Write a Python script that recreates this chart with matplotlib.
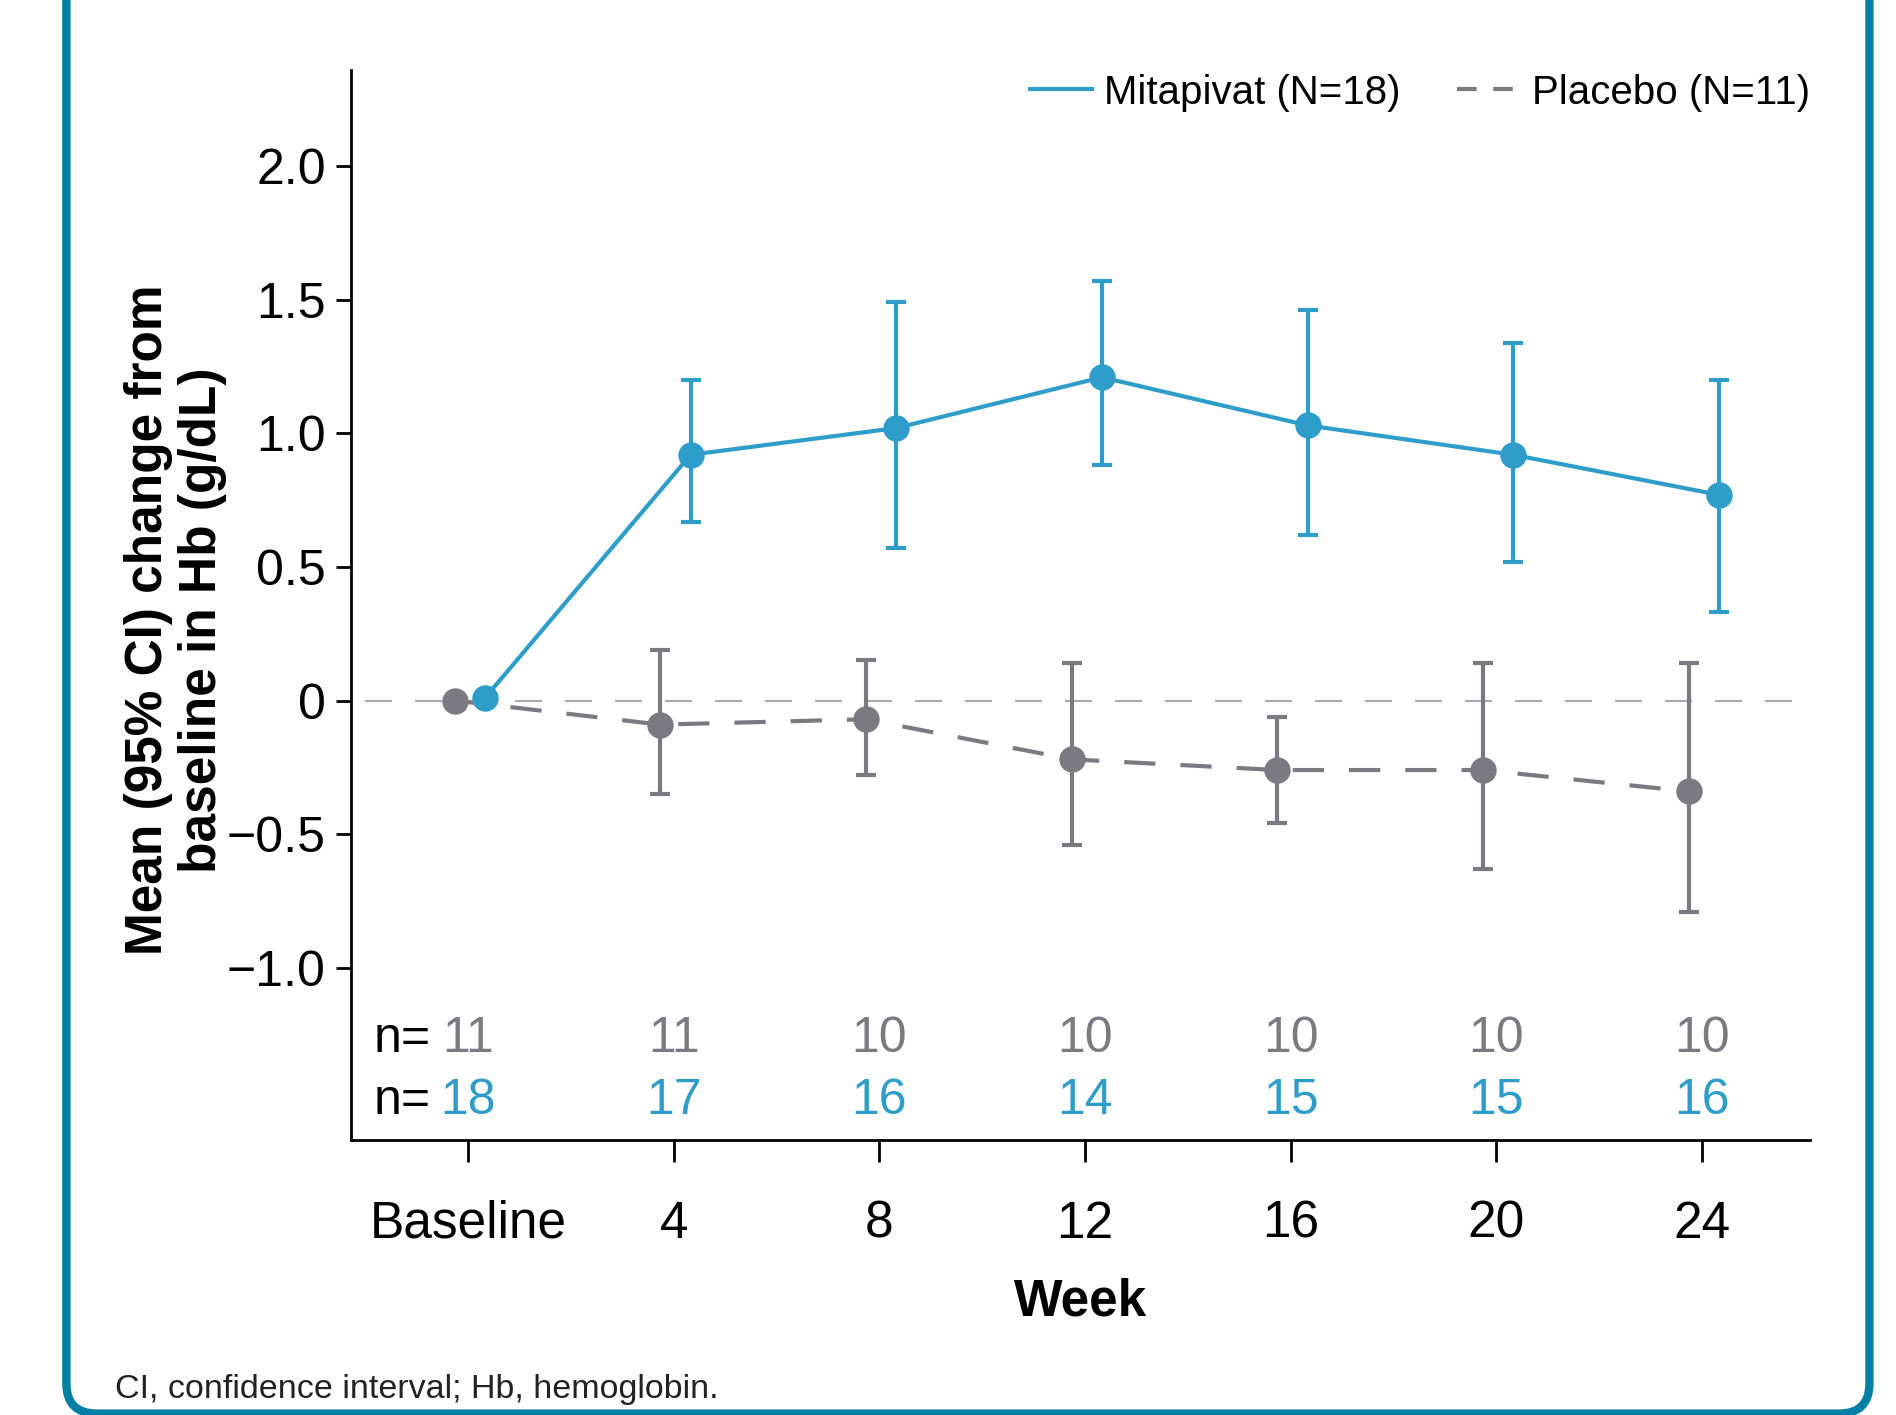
import matplotlib
matplotlib.use("Agg")
import matplotlib.pyplot as plt
from matplotlib.lines import Line2D
from matplotlib.patches import FancyBboxPatch

plt.rcParams["font.family"] = ["Liberation Sans", "DejaVu Sans"]

BLUE = "#2f9dca"
GRAY = "#7a7a80"
TEAL = "#0080a4"

weeks = [0, 4, 8, 12, 16, 20, 24]
week_labels = ["Baseline", "4", "8", "12", "16", "20", "24"]

mita_mean = [0.01, 0.92, 1.02, 1.21, 1.03, 0.92, 0.77]
mita_lo = [0.01, 0.67, 0.57, 0.88, 0.62, 0.52, 0.33]
mita_hi = [0.01, 1.20, 1.49, 1.57, 1.46, 1.34, 1.20]
mita_n = [18, 17, 16, 14, 15, 15, 16]

plac_mean = [0.0, -0.09, -0.07, -0.22, -0.26, -0.26, -0.34]
plac_lo = [0.0, -0.35, -0.28, -0.54, -0.46, -0.63, -0.79]
plac_hi = [0.0, 0.19, 0.15, 0.14, -0.06, 0.14, 0.14]
plac_n = [11, 11, 10, 10, 10, 10, 10]

yticks = [-1.0, -0.5, 0, 0.5, 1.0, 1.5, 2.0]
ytick_labels = ["\u22121.0", "\u22120.5", "0", "0.5", "1.0", "1.5", "2.0"]

fig = plt.figure(figsize=(18.96, 14.15), dpi=100)
ax = fig.add_axes([0.185, 0.1943, 0.7696, 0.7562])

# rounded teal frame around the panel (top runs off the image)
frame = FancyBboxPatch((0.035, 0.001), 0.951, 1.2, boxstyle="round,pad=0,rounding_size=0.016",
                       transform=fig.transFigure, fill=False, edgecolor=TEAL, linewidth=6,
                       mutation_aspect=18.96 / 14.15)
fig.patches.append(frame)

ax.axhline(0, color="#aaaaaa", lw=1.5, dashes=(13, 11), zorder=1, xmin=0.01)


def draw(offset, mean, lo, hi, color, ls):
    x = [w + offset for w in weeks]
    yerr = [[m - l for m, l in zip(mean, lo)], [h - m for m, h in zip(mean, hi)]]
    ax.errorbar(x[1:], mean[1:], yerr=[yerr[0][1:], yerr[1][1:]], fmt="none",
                ecolor=color, elinewidth=3, capsize=7, capthick=3, zorder=3)
    ax.plot(x, mean, color=color, lw=3, ls=ls, marker="o", ms=19,
            markeredgewidth=0, zorder=4)


draw(-0.26, plac_mean, plac_lo, plac_hi, GRAY, (0, (7.5, 6)))
draw(0.33, mita_mean, mita_lo, mita_hi, BLUE, "-")

for w, n in zip(weeks, plac_n):
    ax.text(w, -1.265, str(n), color=GRAY, fontsize=36, ha="center", va="center")
for w, n in zip(weeks, mita_n):
    ax.text(w, -1.50, str(n), color=BLUE, fontsize=36, ha="center", va="center")
ax.text(-0.73, -1.265, "n=", fontsize=36, ha="right", va="center")
ax.text(-0.73, -1.50, "n=", fontsize=36, ha="right", va="center")

ax.set_xlim(-2.28, 26.1)
ax.set_ylim(-1.645, 2.36)
ax.set_xticks(weeks)
ax.set_xticklabels(week_labels)
ax.set_yticks(yticks)
ax.set_yticklabels(ytick_labels)
ax.tick_params(axis="both", width=2, direction="out")
ax.tick_params(axis="x", length=16, pad=27, labelsize=37)
ax.tick_params(axis="y", length=11, pad=7, labelsize=36)
for s in ["top", "right"]:
    ax.spines[s].set_visible(False)
for s in ["left", "bottom"]:
    ax.spines[s].set_linewidth(2)

ax.set_xlabel("Week", fontsize=37, fontweight="bold", labelpad=21)
ax.set_ylabel("Mean (95% CI) change from\nbaseline in Hb (g/dL)", fontsize=37,
              fontweight="bold", linespacing=1.12)
ax.yaxis.set_label_coords(-0.085, 0.486)

handles = [Line2D([], [], color=BLUE, lw=3),
           Line2D([], [], color=GRAY, lw=3, dashes=(4.7, 4.0))]
ax.legend(handles=handles, labels=["Mitapivat (N=18)", "Placebo (N=11)"], ncol=2,
          loc="center right", bbox_to_anchor=(1.0, 0.979), frameon=False, fontsize=29,
          handlelength=1.55, handletextpad=0.3, columnspacing=1.4, borderaxespad=0,
          borderpad=0)

fig.text(0.0607, 0.018, "CI, confidence interval; Hb, hemoglobin.", fontsize=24.5,
         color="#222222", va="center")

fig.savefig("out.png", dpi=100)
